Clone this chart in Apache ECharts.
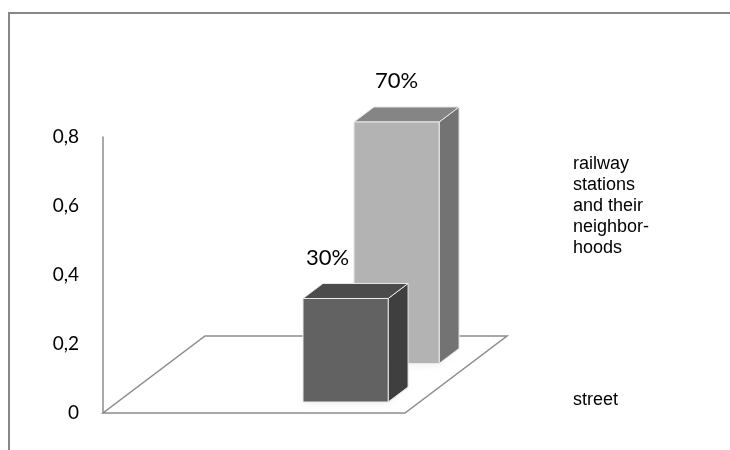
<!DOCTYPE html>
<html>
<head>
<meta charset="utf-8">
<script src="https://cdn.jsdelivr.net/npm/echarts@6/dist/echarts.min.js"></script>
<style>html,body{margin:0;padding:0;background:#fff}#c{width:730px;height:450px}</style>
</head>
<body>
<div id="c"></div>
<script>
// ---- data ----
const seriesNames = ['street', 'railway\nstations\nand their\nneighbor-\nhoods'];
const values = [0.3, 0.7];
const valueLabels = ['30%', '70%'];
const yMin = 0, yMax = 0.8, yStep = 0.2;

// ---- geometry (floor depth expressed in axis units) ----
const DX = 0.3377;   // horizontal shift of full floor depth (x units)
const DY = 0.2232;   // vertical shift of full floor depth (value units)
const BAR_X0 = 0.614, BAR_W = 0.282;
const ROW_GAP = 0.143, BAR_D = 0.195;
const faceColors = [
  { front: '#626262', top: '#4b4b4b', side: '#3f3f3f' },
  { front: '#b3b3b3', top: '#858585', side: '#737373' }
];

function makeP(api) {
  return function (x, d, v) { return api.coord([x + d * DX, v + d * DY]); };
}

function floorRender(params, api) {
  const p = makeP(api);
  return {
    type: 'polygon',
    shape: { points: [p(0, 0, 0), p(1, 0, 0), p(1, 1, 0), p(0, 1, 0)] },
    style: { fill: '#fff', stroke: '#8c8c8c', lineWidth: 1.5 }
  };
}

function barRender(si) {
  return function (params, api) {
    const p = makeP(api);
    const v = api.value(1);
    const x0 = BAR_X0, x1 = BAR_X0 + BAR_W;
    const d0 = si * 0.5 + ROW_GAP, d1 = d0 + BAR_D;
    const c = faceColors[si];
    const edge = { stroke: '#e9e9e9', lineWidth: 1 };
    const front = [p(x0, d0, 0), p(x1, d0, 0), p(x1, d0, v), p(x0, d0, v)];
    const top = [p(x0, d0, v), p(x1, d0, v), p(x1, d1, v), p(x0, d1, v)];
    const side = [p(x1, d0, 0), p(x1, d1, 0), p(x1, d1, v), p(x1, d0, v)];
    const foot = [p(x0, d0, 0), p(x1, d0, 0), p(x1, d1, 0), p(x0, d1, 0)];
    const ft = p(x0, d0, v), fr = p(x1, d0, v);
    const lx = (ft[0] + fr[0]) / 2 - (si === 0 ? 18 : 0);
    return {
      type: 'group',
      children: [
        { type: 'polygon', shape: { points: foot },
          style: { fill: 'rgba(0,0,0,0.18)', shadowBlur: 8, shadowColor: 'rgba(0,0,0,0.35)', shadowOffsetX: -3, shadowOffsetY: 2 } },
        { type: 'polygon', shape: { points: side }, style: Object.assign({ fill: c.side }, edge) },
        { type: 'polygon', shape: { points: top }, style: Object.assign({ fill: c.top }, edge) },
        { type: 'polygon', shape: { points: front }, style: Object.assign({ fill: c.front }, edge) },
        { type: 'text', style: { text: valueLabels[si], x: lx, y: ft[1] - 41,
            align: 'center', verticalAlign: 'middle', fill: '#000',
            font: '22px Lato' } }
      ]
    };
  };
}

const chart = echarts.init(document.getElementById('c'), null, { renderer: 'canvas' });
const option = {
  animation: false,
  backgroundColor: '#fff',
  grid: { left: 103, right: 325, top: 137, bottom: 37 },
  xAxis: { type: 'value', min: 0, max: 1, show: false },
  yAxis: {
    type: 'value', min: yMin, max: yMax, interval: yStep,
    axisLine: { show: true, lineStyle: { color: '#8c8c8c', width: 1.5 } },
    axisTick: { show: false },
    splitLine: { show: false },
    axisLabel: {
      margin: 24, color: '#000', fontFamily: 'Lato', fontSize: 19,
      formatter: function (val) { return String(+val.toFixed(1)).replace('.', ','); }
    }
  },
  graphic: [
    { type: 'rect', shape: { x: 9, y: 13, width: 800, height: 500 },
      style: { fill: 'none', stroke: '#878787', lineWidth: 2 }, z: 100 },
    { type: 'text', x: 573, y: 154, style: { text: seriesNames[1], font: '18px "Liberation Sans"',
      fill: '#000', lineHeight: 21, verticalAlign: 'top' } },
    { type: 'text', x: 573, y: 400, style: { text: seriesNames[0], font: '18px "Liberation Sans"',
      fill: '#000', verticalAlign: 'middle' } }
  ],
  series: [
    { type: 'custom', name: 'floor', renderItem: floorRender, data: [[0, 0]], clip: false, z: 1, silent: true },
    { type: 'custom', name: seriesNames[1], renderItem: barRender(1), data: [[0, values[1]]], clip: false, z: 2 },
    { type: 'custom', name: seriesNames[0], renderItem: barRender(0), data: [[0, values[0]]], clip: false, z: 3 }
  ]
};
chart.setOption(option);
</script>
</body>
</html>
